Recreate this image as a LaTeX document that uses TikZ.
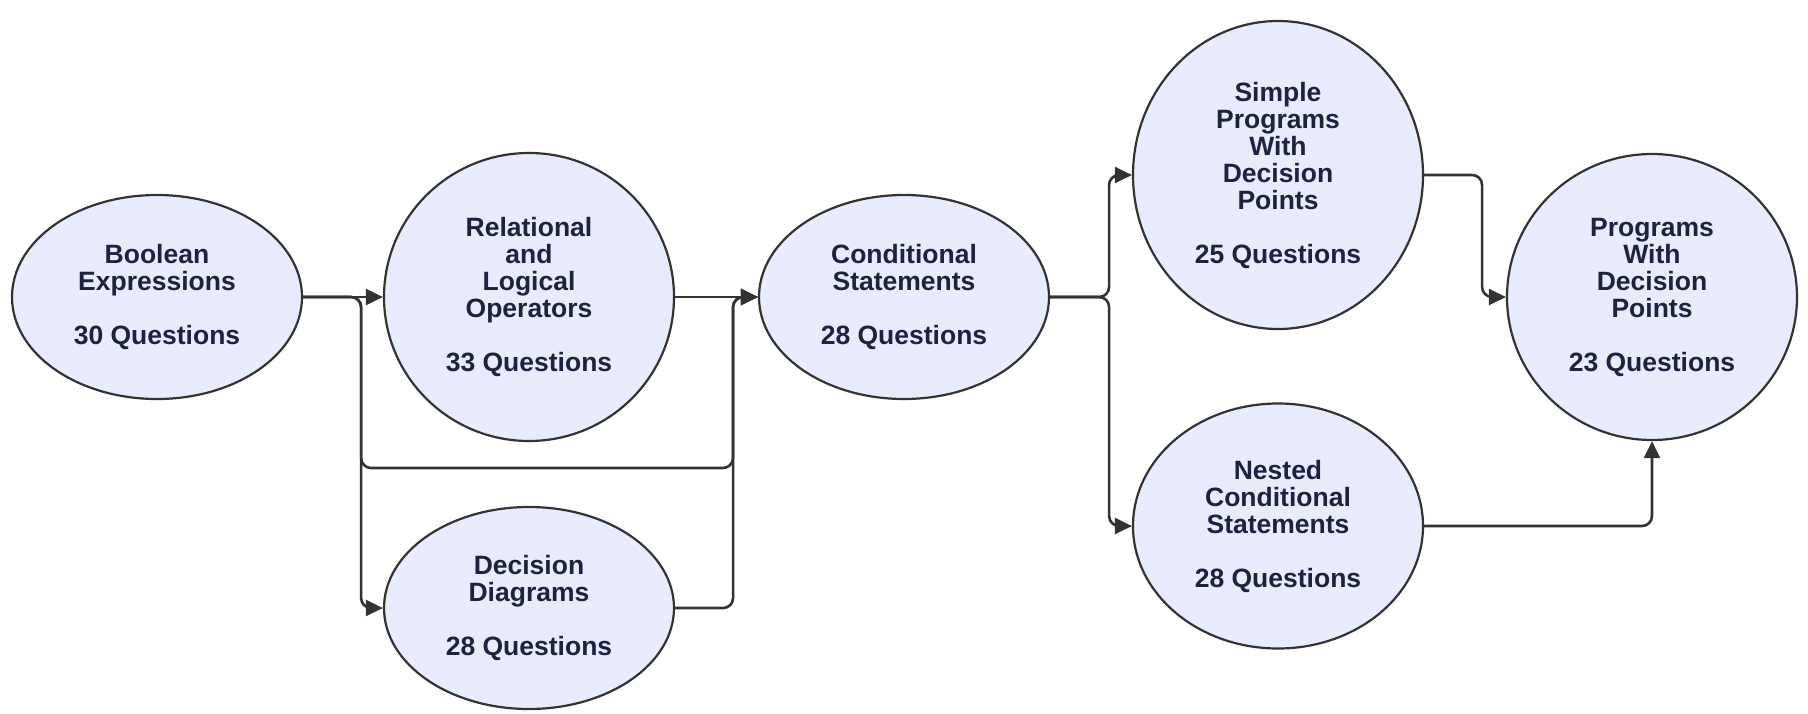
\documentclass[tikz,border=0pt]{standalone}
\usepackage{fontspec}
\setmainfont{Liberation Sans}
\usetikzlibrary{shapes.geometric,arrows.meta}
\definecolor{bubblefill}{RGB}{232,236,252}
\definecolor{edgegray}{RGB}{51,51,51}
\definecolor{labelnavy}{RGB}{30,33,64}

\begin{document}
\begin{tikzpicture}[x=1pt,y=-1pt,
    topic/.style={ellipse,draw=edgegray,line width=2.2pt,fill=bubblefill,inner sep=0pt,
      align=center,text=labelnavy,font=\fontsize{26.5}{27}\selectfont\bfseries},
    link/.style={draw=edgegray,line width=2.6pt,rounded corners=10pt,
      -{Triangle[length=17pt,width=16pt]}}]
    \useasboundingbox (0,0) rectangle (1808,713);

    % draw nodes
    \node[topic,minimum width=290pt,minimum height=204pt] (bool) at (157,297)
      {Boolean\\Expressions\\[27pt]30 Questions};
    \node[topic,minimum width=290pt,minimum height=288pt] (relop) at (529,297)
      {Relational\\and\\Logical\\Operators\\[27pt]33 Questions};
    \node[topic,minimum width=290pt,minimum height=202pt] (decdiag) at (529,608)
      {Decision\\Diagrams\\[27pt]28 Questions};
    \node[topic,minimum width=290pt,minimum height=204pt] (cond) at (904,297)
      {Conditional\\Statements\\[27pt]28 Questions};
    \node[topic,minimum width=290pt,minimum height=308pt] (simple) at (1278,175)
      {Simple\\Programs\\With\\Decision\\Points\\[27pt]25 Questions};
    \node[topic,minimum width=290pt,minimum height=245pt] (nested) at (1278,526)
      {Nested\\Conditional\\Statements\\[27pt]28 Questions};
    \node[topic,minimum width=290pt,minimum height=286pt] (progs) at (1652,297)
      {Programs\\With\\Decision\\Points\\[27pt]23 Questions};

    % draw arrows
    \draw[link] (bool.east) -- (relop.west);
    \draw[link] (bool.east) -- ++(58,0) |- (decdiag.west);
    \draw[link] (bool.east) -- ++(58,0) |- (733,468) |- (cond.west);
    \draw[link] (relop.east) -- (cond.west);
    \draw[link] (decdiag.east) -- ++(58,0) |- (cond.west);
    \draw[link] (cond.east) -- ++(59,0) |- (simple.west);
    \draw[link] (cond.east) -- ++(59,0) |- (nested.west);
    \draw[link] (simple.east) -- ++(58,0) |- (progs.west);
    \draw[link] (nested.east) -| (progs.south);
\end{tikzpicture}
\end{document}
